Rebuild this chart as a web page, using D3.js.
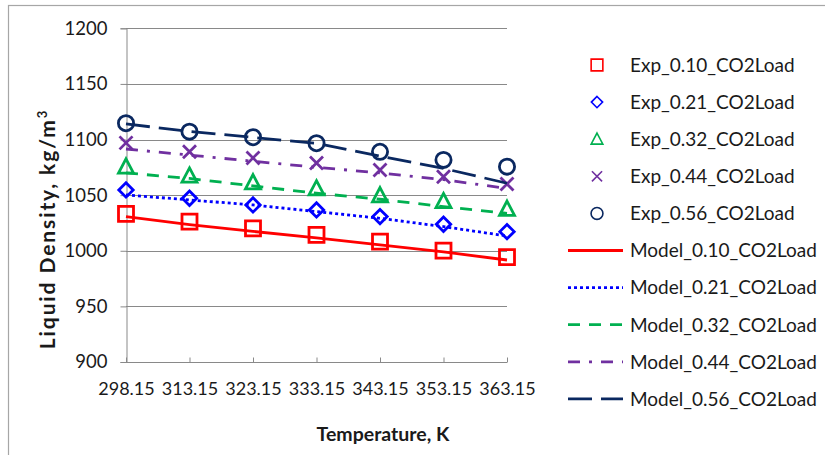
<!DOCTYPE html>
<html>
<head>
<meta charset="utf-8">
<script src="https://cdn.jsdelivr.net/npm/d3@7"></script>
<style>
  html, body { margin: 0; padding: 0; background: #fff; }
  svg { display: block; font-family: Lato, "Open Sans", sans-serif; }
</style>
</head>
<body>
<svg id="chart" width="825" height="455"></svg>
<script>
// Temperatures (K) on the category axis
const categories = ["298.15", "313.15", "323.15", "333.15", "343.15", "353.15", "363.15"];

// Measured liquid densities (kg/m3) per CO2 loading
const exp010 = [1033.1, 1026.2, 1020.2, 1014.2, 1008.2, 1000.1, 994.2];
const exp021 = [1054.7, 1047.2, 1041.2, 1036.7, 1030.7, 1023.8, 1017.2];
const exp032 = [1075.6, 1067.4, 1061.4, 1055.9, 1049.7, 1044.5, 1037.6];
const exp044 = [1097.0, 1089.0, 1083.5, 1079.0, 1072.7, 1066.6, 1060.0];
const exp056 = [1114.7, 1107.1, 1102.1, 1096.7, 1089.0, 1081.7, 1075.6];

// Model-predicted liquid densities (kg/m3)
const model010 = [1030.7, 1023.6, 1017.4, 1011.6, 1005.2, 999.0, 991.7];
const model021 = [1050.2, 1045.7, 1041.2, 1035.2, 1029.2, 1021.7, 1013.3];
const model032 = [1070.0, 1065.0, 1058.3, 1051.7, 1046.3, 1039.7, 1033.7];
const model044 = [1091.5, 1086.0, 1080.5, 1075.0, 1070.0, 1064.0, 1056.0];
const model056 = [1114.0, 1107.3, 1101.9, 1096.5, 1085.0, 1074.0, 1060.7];

const yTicks = [900, 950, 1000, 1050, 1100, 1150, 1200];

const expNames = ["Exp_0.10_CO2Load", "Exp_0.21_CO2Load", "Exp_0.32_CO2Load", "Exp_0.44_CO2Load", "Exp_0.56_CO2Load"];
const modelNames = ["Model_0.10_CO2Load", "Model_0.21_CO2Load", "Model_0.32_CO2Load", "Model_0.44_CO2Load", "Model_0.56_CO2Load"];

const colors = ["#ff0000", "#0000ff", "#00b050", "#7030a0", "#0a2860"];
const markerShapes = ["square", "diamond", "triangle", "cross", "circle"];
const dashes = [null, "3,3", "12,9", "12,9,3,9", "24,9"];

const expSeries = [exp010, exp021, exp032, exp044, exp056];
const modelSeries = [model010, model021, model032, model044, model056];

const svg = d3.select("#chart");
const gray = "#898989";
const textColor = "#1a1a1a";

// Outer chart frame
svg.append("rect")
  .attr("x", 8.5).attr("y", 5.5)
  .attr("width", 900).attr("height", 500)
  .attr("fill", "none").attr("stroke", "#a6a6a6").attr("stroke-width", 1.2);

const plot = { left: 126, right: 507, top: 28.3, bottom: 362 };
const x = d3.scalePoint().domain(categories).range([plot.left, plot.right]);
const y = d3.scaleLinear().domain([900, 1200]).range([plot.bottom, plot.top]);

// Horizontal gridlines
svg.append("g")
  .selectAll("line")
  .data(yTicks.filter(t => t > 900))
  .join("line")
  .attr("x1", plot.left).attr("x2", plot.right)
  .attr("y1", d => Math.round(y(d)) + 0.5).attr("y2", d => Math.round(y(d)) + 0.5)
  .attr("stroke", gray).attr("stroke-width", 1);

// Y axis
const yAxis = svg.append("g")
  .attr("transform", `translate(${plot.left + 0.5},0)`)
  .call(d3.axisLeft(y).tickValues(yTicks).tickSize(6).tickPadding(13).tickFormat(d3.format("d")));
yAxis.select(".domain").attr("stroke", gray);
yAxis.selectAll(".tick line").attr("stroke", gray);
yAxis.selectAll(".tick text")
  .attr("font-family", "Lato, sans-serif").attr("font-size", 18.5).attr("fill", textColor);

// X axis
const xAxis = svg.append("g")
  .attr("transform", `translate(0,${Math.round(plot.bottom) + 0.5})`)
  .call(d3.axisBottom(x).tickSize(-5).tickPadding(20));
xAxis.select(".domain").attr("d", `M${plot.left},0H${plot.right}`).attr("stroke", gray);
xAxis.selectAll(".tick line").attr("stroke", gray);
xAxis.selectAll(".tick text")
  .attr("font-family", "Lato, sans-serif").attr("font-size", 18).attr("fill", textColor);

// Axis titles
svg.append("text")
  .attr("transform", "translate(55,229) rotate(-90)")
  .attr("text-anchor", "middle")
  .attr("font-family", "Lato, sans-serif").attr("font-weight", "bold").attr("font-size", 21)
  .attr("letter-spacing", 1.9)
  .attr("fill", textColor)
  .text("Liquid Density, kg/m")
  .append("tspan").attr("baseline-shift", "super").attr("font-size", 13).text("3");

svg.append("text")
  .attr("x", 383).attr("y", 441)
  .attr("text-anchor", "middle")
  .attr("font-family", "Lato, sans-serif").attr("font-weight", "bold").attr("font-size", 19.5)
  .attr("fill", textColor)
  .text("Temperature, K");

// Marker path generator
function markerPath(shape, r) {
  switch (shape) {
    case "square": return `M${-r},${-r}H${r}V${r}H${-r}Z`;
    case "diamond": return `M0,${-r}L${r},0L0,${r}L${-r},0Z`;
    case "triangle": return `M0,${-r * 1.05}L${r},${r * 0.85}L${-r},${r * 0.85}Z`;
    case "cross": return `M${-r},${-r}L${r},${r}M${-r},${r}L${r},${-r}`;
    case "circle": return d3.arc()({ innerRadius: 0, outerRadius: r, startAngle: 0, endAngle: 2 * Math.PI });
  }
}
const markerSize = { square: 7.5, diamond: 7.2, triangle: 7.5, cross: 6.5, circle: 7.6 };

// Experimental points
expSeries.forEach((vals, i) => {
  svg.append("g")
    .selectAll("path")
    .data(vals)
    .join("path")
    .attr("transform", (d, j) => `translate(${x(categories[j])},${y(d)})`)
    .attr("d", markerPath(markerShapes[i], markerSize[markerShapes[i]]))
    .attr("fill", "none")
    .attr("stroke", colors[i])
    .attr("stroke-width", 2.8)
    .attr("stroke-linejoin", "miter");
});

// Model curves
const line = d3.line().x((d, j) => x(categories[j])).y(d => y(d));
modelSeries.forEach((vals, i) => {
  svg.append("path")
    .datum(vals)
    .attr("d", line)
    .attr("fill", "none")
    .attr("stroke", colors[i])
    .attr("stroke-width", 2.8)
    .attr("stroke-dasharray", dashes[i]);
});

// Legend
const legendTop = 65, legendStep = 37.1;
const legend = svg.append("g");
expNames.forEach((name, i) => {
  const cy = legendTop + i * legendStep;
  legend.append("path")
    .attr("transform", `translate(597,${cy})`)
    .attr("d", markerPath(markerShapes[i], markerSize[markerShapes[i]] * 0.78))
    .attr("fill", "none").attr("stroke", colors[i]).attr("stroke-width", 1.6);
  legend.append("text")
    .attr("x", 630).attr("y", cy).attr("dy", "0.36em")
    .attr("font-family", "Lato, sans-serif").attr("font-size", 19).attr("fill", textColor)
    .text(name);
});
modelNames.forEach((name, i) => {
  const cy = legendTop + (i + 5) * legendStep;
  legend.append("line")
    .attr("x1", 568).attr("x2", 623).attr("y1", cy).attr("y2", cy)
    .attr("stroke", colors[i]).attr("stroke-width", 2.8)
    .attr("stroke-dasharray", dashes[i]);
  legend.append("text")
    .attr("x", 630).attr("y", cy).attr("dy", "0.36em")
    .attr("font-family", "Lato, sans-serif").attr("font-size", 19).attr("fill", textColor)
    .text(name);
});
</script>
</body>
</html>
